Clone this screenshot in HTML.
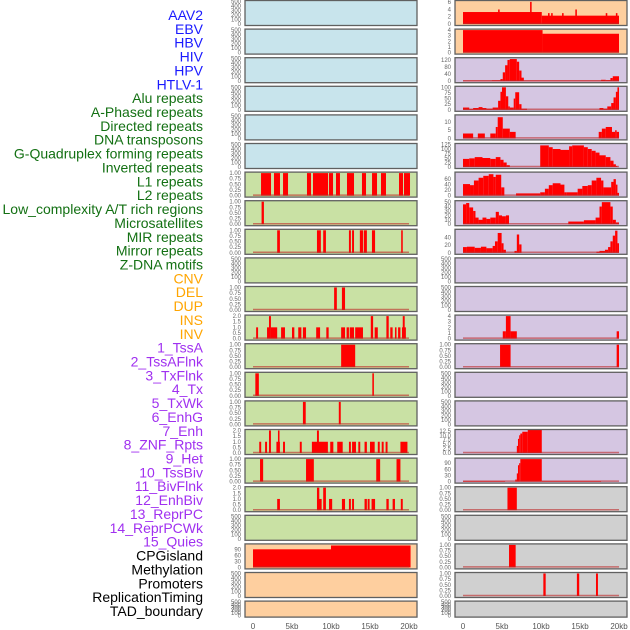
<!DOCTYPE html>
<html><head><meta charset="utf-8"><style>
html,body{margin:0;padding:0;background:#fff;width:630px;height:630px;overflow:hidden}
svg{display:block}
</style></head><body>
<svg id="chart" width="630" height="630" xmlns="http://www.w3.org/2000/svg"></svg>
<script>
// ---------- DATA ----------
const trackLabels = ["AAV2","EBV","HBV","HIV","HPV","HTLV-1","Alu repeats","A-Phased repeats","Directed repeats","DNA transposons","G-Quadruplex forming repeats","Inverted repeats","L1 repeats","L2 repeats","Low_complexity A/T rich regions","Microsatellites","MIR repeats","Mirror repeats","Z-DNA motifs","CNV","DEL","DUP","INS","INV","1_TssA","2_TssAFlnk","3_TxFlnk","4_Tx","5_TxWk","6_EnhG","7_Enh","8_ZNF_Rpts","9_Het","10_TssBiv","11_BivFlnk","12_EnhBiv","13_ReprPC","14_ReprPCWk","15_Quies","CPGisland","Methylation","Promoters","ReplicationTiming","TAD_boundary"];
const labelGroups = [6,13,5,15,5];
const xTicks = [0,5,10,15,20];
const xTickLabels = ["0","5kb","10kb","15kb","20kb"];
const emptyTicks = [0,100,200,300,400,500];
const unitTicks = [0,0.25,0.5,0.75,1.0];
const twoTicks = [0,0.5,1.0,1.5,2.0];

// left column segments [startKb, endKb, value]
const leftL1 = [[1.03,2.31,1],[2.69,3.46,1],[3.85,4.49,1],[6.92,7.44,1],[7.69,9.62,1],[9.74,10.26,1],[10.64,11.15,1],[12.05,12.95,1],[13.97,14.49,1],[15.26,15.9,1],[16.41,17.05,1],[18.72,19.23,1],[19.36,20.13,1]];
const leftLowComplex = [[1.1,1.4,1]];
const leftMIR = [[3.1,3.45,1],[8.2,8.7,1],[9.0,9.35,1],[12.3,12.55,1],[12.7,12.95,1],[13.7,14.1,1],[14.2,14.6,1],[15.25,15.65,1],[19.0,19.2,1]];
const leftCNV = [[10.4,10.75,1],[11.4,11.8,1]];
const leftDEL = [[0.4,0.65,1],[1.8,2.1,1],[2.05,2.3,2],[2.3,3.1,1],[3.6,4.1,1],[5.0,5.3,1],[5.8,6.2,1],[6.4,6.8,1],[8.1,8.6,1],[9.4,9.7,1],[11.3,11.8,1],[12.0,12.3,1],[12.4,12.95,1],[13.1,14.1,1],[15.1,15.4,2],[15.6,16.0,1],[17.1,17.4,2],[17.6,17.9,1],[18.2,18.4,1],[18.6,18.9,1],[19.1,19.6,1],[19.2,19.45,2]];
const leftINS = [[11.3,13.1,1]];
const leftINV = [[0.3,0.75,1],[15.3,15.5,1]];
const leftTssA = [[6.4,6.76,1],[11.0,11.25,1]];
const leftTssAFlnk = [[0.8,1.05,1],[1.55,1.8,1],[2.05,2.3,2],[3.0,3.45,1],[3.2,3.4,2],[3.85,4.1,1],[6.0,6.25,1],[7.55,9.6,1],[8.2,8.45,2],[9.9,10.3,1],[10.8,11.5,1],[12.3,12.55,1],[12.7,13.2,1],[13.5,13.75,1],[14.3,14.6,1],[15.0,15.6,1],[16.0,16.25,1],[16.5,16.75,1],[17.0,17.25,1],[18.9,19.8,1]];
const leftTxFlnk = [[0.9,1.3,1],[6.8,7.8,1],[15.8,16.3,1],[18.4,18.9,1]];
const leftTx = [[3.1,3.45,1],[8.2,8.5,2],[8.3,8.8,1],[9.0,9.35,2],[9.75,10.15,1],[11.4,11.8,1],[12.3,12.55,1],[12.7,12.95,1],[14.3,14.6,1],[14.7,14.95,1],[15.2,15.65,1],[17.1,17.4,1],[17.9,18.2,1],[18.95,19.2,1]];
const leftCPG = [[0,10,90],[10,20.2,109]];

// right column segments
const rightAAV2 = [[0,10.1,3.3],[10.1,20,2.3],[4.5,4.7,4],[8.6,8.8,6.1],[10.9,11.1,3],[11.3,11.5,3],[12.7,12.9,3],[14.4,14.6,4],[18.3,18.5,3],[19.6,19.8,3]];
const rightEBV = [[0,10.2,4],[10.2,20,3.35]];
const rightHIV = [[0,3.7,3],[3.7,4.8,5],[4.8,5.1,12],[5.1,5.4,50],[5.4,5.7,90],[5.7,6.0,120],[6.0,6.9,125],[6.9,7.2,110],[7.2,7.5,60],[7.5,7.8,20],[7.8,17.7,3],[17.7,18.3,8],[18.3,18.9,6],[18.9,19.2,18],[19.2,20,28]];
const rightHPV = [[0,0.8,10],[0.8,1.3,3],[1.3,2,8],[2,2.5,12],[2.5,3,8],[3,3.8,5],[3.8,4.5,10],[4.5,4.8,40],[4.8,5.0,80],[5.0,5.5,100],[5.5,5.8,60],[5.8,6.0,15],[6.0,6.5,10],[6.5,6.7,50],[6.7,7.2,78],[7.2,7.5,25],[7.5,8.2,5],[17.5,18,8],[18,18.5,5],[18.5,19,15],[19,19.3,30],[19.3,19.6,55],[19.6,19.8,80],[19.8,20,100]];
const rightAlu = [[0,1.3,3],[1.9,2.8,3],[3.5,4.2,3],[4.2,4.45,7],[4.45,5.1,13],[5.1,6,6],[6,6.75,4],[17.4,17.8,4],[17.8,18.3,6],[18.3,19.1,7],[19.1,19.5,4],[19.5,19.7,5],[19.7,20,4]];
const rightAPhased = [[0,0.8,45],[0.8,1.5,48],[1.5,2.5,55],[2.5,3.5,50],[3.5,4.2,45],[4.2,4.8,55],[4.8,5.2,40],[5.2,5.6,25],[5.6,6.0,10],[9.9,11,120],[11,11.5,110],[11.5,12.5,100],[12.5,13.6,95],[13.6,14,115],[14,15.5,120],[15.5,16,110],[16,16.5,100],[16.5,17,90],[17,17.5,80],[17.5,18.3,65],[18.3,18.9,55],[18.9,19.3,35],[19.3,19.6,15],[19.6,19.8,5]];
const rightL1 = [[0,0.9,42],[0.9,1.4,38],[1.4,2.0,55],[2.0,2.6,65],[2.6,3.3,72],[3.3,3.9,78],[3.9,4.2,68],[4.2,4.9,76],[4.9,5.3,30],[6.8,9.9,8],[9.9,10.5,12],[10.5,11,25],[11,11.5,38],[11.5,12.5,45],[12.5,13,40],[13,13.3,12],[13.3,14.7,12],[14.7,15.3,25],[15.3,16,35],[16,16.5,38],[16.5,17.1,55],[17.1,17.7,65],[17.7,18,55],[18,19,30],[19,19.3,50],[19.3,19.6,60],[19.6,19.8,40],[19.8,20,10]];
const rightLowComplex = [[0,0.4,45],[0.4,0.8,48],[0.8,1.3,38],[1.3,1.6,30],[1.6,2.0,15],[2.0,2.5,10],[2.5,3,15],[3,3.5,12],[3.5,4.2,15],[4.2,4.6,28],[4.6,5.0,20],[5.0,5.5,18],[5.5,5.9,20],[13.5,15.5,6],[15.5,17,9],[17,17.5,15],[17.5,17.8,40],[17.8,18.9,50],[18.9,19.2,40],[19.2,19.6,10],[19.6,20,4]];
const rightMIR = [[0,0.5,15],[0.5,1.5,16],[1.5,2.3,13],[2.3,3,16],[3,3.8,12],[3.8,4.1,18],[4.1,4.45,30],[4.45,4.95,52],[4.95,5.2,25],[5.2,5.5,8],[6.6,6.9,5],[6.9,7.2,48],[7.2,7.5,22],[17.1,17.5,3],[17.5,18.2,5],[18.2,18.6,8],[18.6,18.9,15],[18.9,19.2,30],[19.2,19.5,45],[19.5,19.8,58],[19.8,20,25]];
const rightINS = [[5.1,5.5,1.3],[5.5,6.1,4],[6.1,6.9,1.3],[19.7,20,1.3]];
const rightTssA = [[4.75,6.1,1],[19.7,20,1]];
const rightEnh = [[6.9,7.05,4],[7.05,7.2,8],[7.2,7.35,10],[7.35,7.6,11],[7.6,8.3,12],[8.3,10.1,13]];
const rightZNF = [[0,5.4,3],[6.7,6.9,10],[6.9,7.05,40],[7.05,7.2,80],[7.2,7.35,90],[7.35,10.1,110],[10.1,17.7,3]];
const rightHet = [[5.7,6.9,1]];
const rightCPG = [[5.9,6.75,1]];
const rightMethyl = [[10.3,10.6,1],[14.6,14.9,1],[17.05,17.3,1]];

// ---------- LAYOUT ----------
const BLUE="#c8e4ec", GREEN="#c9e1a4", ORANGE="#fecf9f", PURPLE="#d5c6e2", GRAY="#d0d0d0";
const leftBg = [BLUE,BLUE,BLUE,BLUE,BLUE,BLUE,GREEN,GREEN,GREEN,GREEN,GREEN,GREEN,GREEN,GREEN,GREEN,GREEN,GREEN,GREEN,GREEN,ORANGE,ORANGE,ORANGE];
const rightBg = [ORANGE,ORANGE,PURPLE,PURPLE,PURPLE,PURPLE,PURPLE,PURPLE,PURPLE,PURPLE,PURPLE,PURPLE,PURPLE,PURPLE,PURPLE,PURPLE,PURPLE,GRAY,GRAY,GRAY,GRAY,GRAY];
const leftPanels = {6:[leftL1,1,unitTicks,2],7:[leftLowComplex,1,unitTicks,2],8:[leftMIR,1,unitTicks,2],10:[leftCNV,1,unitTicks,2],11:[leftDEL,2,twoTicks,1],12:[leftINS,1,unitTicks,2],13:[leftINV,1,unitTicks,2],14:[leftTssA,1,unitTicks,2],15:[leftTssAFlnk,2,twoTicks,1],16:[leftTxFlnk,1,unitTicks,2],17:[leftTx,2,twoTicks,1],19:[leftCPG,112,[0,30,60,90],0]};
const rightPanels = {0:[rightAAV2,6.2,[0,2,4,6],0],1:[rightEBV,4,[0,1,2,3,4],0],2:[rightHIV,127,[0,40,80,120],0],3:[rightHPV,100,[0,25,50,75,100],0],4:[rightAlu,13.8,[0,5,10],0],5:[rightAPhased,125,[0,25,50,75,100,125],0],6:[rightL1,82,[0,20,40,60],0],7:[rightLowComplex,51,[0,10,20,30,40,50],0],8:[rightMIR,59,[0,20,40],0],11:[rightINS,4,[0,1,2,3,4],0],12:[rightTssA,1,unitTicks,2],15:[rightEnh,12.7,[0,2.5,5,7.5,10,12.5],1],16:[rightZNF,110,[0,30,60,90],0],17:[rightHet,1,unitTicks,2],19:[rightCPG,1,unitTicks,2],20:[rightMethyl,1,unitTicks,2]};

const NS="http://www.w3.org/2000/svg";
const svg=document.getElementById('chart');
function mk(tag,attrs,parent){const e=document.createElementNS(NS,tag);for(const k in attrs)e.setAttribute(k,attrs[k]);(parent||svg).appendChild(e);return e;}

// labels
const groupColors=["#1a1aff","#137013","#ffa500","#a030f0","#000000"];
let li=0;
labelGroups.forEach((n,g)=>{for(let k=0;k<n;k++){
  const t=mk('text',{x:203,y:15+li*13.86+5,'text-anchor':'end','font-family':'Liberation Sans, sans-serif','font-size':'14',fill:groupColors[g]});
  t.textContent=trackLabels[li];
  
  
  li++;}});

function rowTop(i){return 28.6*i;}
function rowH(i){return i===21?16:25;}

function drawPanel(col,i,bg,cfg){
  const px = col===0?245:455, w=172, x0 = col===0?253:463, kb=7.8;
  const top=rowTop(i), h=rowH(i);
  const g=mk('g',{});
  
  
  mk('rect',{x:px,y:top+0.5,width:w,height:h,fill:bg},g);
  const xs=v=>x0+v*kb;
  let ymax=500, ticks=emptyTicks, dec=0, segs=null;
  if(cfg){segs=cfg[0];ymax=cfg[1];ticks=cfg[2];dec=cfg[3];}
  const ys=v=>top+h-1-v/ymax*(h-2.5);
  if(segs){
    segs.forEach(s=>{
      const r=mk('rect',{x:xs(s[0]),y:ys(s[2]),width:Math.max(0.8,xs(s[1])-xs(s[0])),height:ys(0)-ys(s[2]),fill:'#ff0000'},g);
      
      
    });
    mk('line',{x1:xs(0),x2:xs(20),y1:ys(0)-0.5,y2:ys(0)-0.5,stroke:'rgba(190,40,40,0.6)','stroke-width':1.5},g);
  }
  mk('rect',{x:px,y:top+0.5,width:w,height:h,fill:'none',stroke:'#606060','stroke-width':1.3},g);
  ticks.forEach(t=>{
    const tx=mk('text',{x:px-4,y:ys(t)+2,'text-anchor':'end','font-family':'Liberation Sans, sans-serif','font-size':'6',fill:'#666'},g);
    tx.textContent=t.toFixed(dec);
  });
}
for(let i=0;i<22;i++){
  drawPanel(0,i,leftBg[i],leftPanels[i]);
  drawPanel(1,i,rightBg[i],rightPanels[i]);
}
// x axes
[253,463].forEach((x0,c)=>{
  xTicks.forEach((t,k)=>{
    const tx=mk('text',{x:x0+t*7.8,y:629,'text-anchor':'middle','font-family':'Liberation Sans, sans-serif','font-size':'8',fill:'#555'});
    tx.textContent=xTickLabels[k];
    
    
  });
});
</script>
</body></html>
